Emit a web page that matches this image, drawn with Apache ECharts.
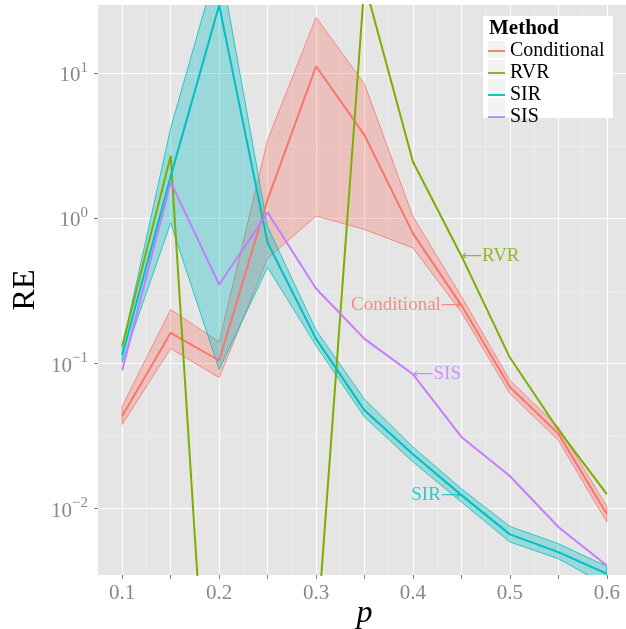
<!DOCTYPE html>
<html><head><meta charset="utf-8">
<script src="https://cdn.jsdelivr.net/npm/echarts@6/dist/echarts.min.js"></script>
<style>html,body{margin:0;padding:0;background:#fff}#c{width:626px;height:629px}</style>
</head><body><div id="c"></div>
<script>
// ---- data ----
const p = [0.1, 0.15, 0.2, 0.25, 0.3, 0.35, 0.4, 0.45, 0.5, 0.55, 0.6];
const methods = ['Conditional', 'RVR', 'SIR', 'SIS'];
const condMean = [0.0435, 0.163, 0.105, 1.35, 11.2, 3.75, 0.79, 0.252, 0.069, 0.0329, 0.0092];
const condLow  = [0.0381, 0.127, 0.080, 0.53, 1.04, 0.84, 0.627, 0.226, 0.0621, 0.0296, 0.0081];
const condHigh = [0.0508, 0.236, 0.141, 3.47, 24.3, 8.44, 1.03, 0.29, 0.0767, 0.0366, 0.0104];
const rvr      = [0.132, 2.70, 1.5e-5, 5e-5, 0.0011, 42, 2.46, 0.552, 0.11, 0.035, 0.0126];
const sirMean  = [0.114, 1.95, 29.5, 0.68, 0.148, 0.0476, 0.0237, 0.0124, 0.00665, 0.00502, 0.00356];
const sirLow   = [0.102, 0.93, 0.091, 0.46, 0.133, 0.0428, 0.021, 0.0111, 0.0059, 0.00452, 0.00295];
const sirHigh  = [0.13, 4.19, 62, 0.88, 0.17, 0.0567, 0.0266, 0.0137, 0.00755, 0.00574, 0.0040];
const sis      = [0.090, 1.78, 0.351, 1.10, 0.329, 0.148, 0.0844, 0.0312, 0.0168, 0.00747, 0.00406];
const yRange = [0.00349, 29.6];
const xRange = [0.075, 0.625];
const xLabels = [0.1, 0.2, 0.3, 0.4, 0.5, 0.6];
const yDecades = [-2, -1, 0, 1];

// ---- styling ----
const FONT = '"Liberation Serif", "Times New Roman", serif';
const COL = {Conditional: '#F8766D', RVR: '#7CAE00', SIR: '#00BFC4', SIS: '#C77CFF'};
const L = v => Math.log10(v);
const pts = arr => p.map((x, i) => [x, L(arr[i])]);

function meanLine(name, arr) {
  return {type: 'line', name, data: pts(arr), symbol: 'none', showSymbol: false, clip: true,
    lineStyle: {width: 2, color: COL[name]}, itemStyle: {color: COL[name]}, z: 2};
}
function ribbon(name, lo, hi) {
  return {
    type: 'custom', name: name + ' band', z: 2, clip: true,
    data: p.map((x, i) => [x, L(lo[i]), L(hi[i])]),
    encode: {x: 0, y: [1, 2]},
    renderItem: (params, api) => {
      if (params.dataIndexInside !== 0) return null;
      const top = [], bot = [];
      for (let i = 0; i < p.length; i++) {
        top.push(api.coord([api.value(0, i), api.value(2, i)]));
        bot.push(api.coord([api.value(0, i), api.value(1, i)]));
      }
      const cs = params.coordSys;
      return {
        type: 'group',
        clipPath: {type: 'rect', shape: {x: cs.x, y: cs.y, width: cs.width, height: cs.height}},
        children: [{type: 'polygon', shape: {points: top.concat(bot.reverse())},
          style: {fill: echarts.color.modifyAlpha(COL[name], 0.32), stroke: COL[name], lineWidth: 0.8}}]
      };
    }
  };
}
const ARW = {fontFamily: '"DejaVu Sans", sans-serif', fontSize: 14};
const note = (x, y, txt, pos, c) => ({value: [x, L(y)],
  label: {show: true, position: pos, formatter: txt, color: c,
    rich: {a: Object.assign({color: c}, ARW), t: {color: c, fontFamily: FONT, fontSize: 19}}}});

const chart = echarts.init(document.getElementById('c'), null, {renderer: 'canvas'});
chart.setOption({
  animation: false,
  grid: {left: 98, right: -5, top: 5, bottom: 54, show: true, backgroundColor: '#E5E5E5', borderWidth: 0,
    containLabel: false, outerBoundsMode: 'none'},
  xAxis: {
    type: 'value', min: xRange[0], max: xRange[1], minInterval: 0.05, maxInterval: 0.05, splitNumber: 11,
    axisLine: {show: false, onZero: false},
    axisTick: {show: true, length: 4, customValues: p, lineStyle: {color: '#7f7f7f', width: 1}},
    axisLabel: {fontFamily: FONT, fontSize: 21, color: '#888', margin: 8, customValues: xLabels,
      formatter: v => v.toFixed(1)},
    splitLine: {show: true, lineStyle: {color: '#ffffff', width: 1.1}},
    minorTick: {show: false, splitNumber: 2},
    minorSplitLine: {show: true, lineStyle: {color: '#F2F2F2', width: 0.6}},
    name: 'p', nameLocation: 'middle', nameGap: 23, nameMoveOverlap: false,
    nameTextStyle: {fontFamily: FONT, fontStyle: 'italic', fontSize: 32, color: '#000'}
  },
  yAxis: {
    type: 'value', min: L(yRange[0]), max: L(yRange[1]), minInterval: 1, maxInterval: 1,
    axisLine: {show: false, onZero: false},
    axisTick: {show: true, length: 4, customValues: yDecades, lineStyle: {color: '#7f7f7f', width: 1}},
    axisLabel: {margin: 10, color: '#888', customValues: yDecades,
      formatter: v => {
        const e = Math.round(v);
        return '{b|10}{s|' + (e < 0 ? '\u2212' + (-e) : e) + '}';
      },
      rich: {
        b: {fontFamily: FONT, fontSize: 21, color: '#888', lineHeight: 26, verticalAlign: 'bottom'},
        s: {fontFamily: FONT, fontSize: 15, color: '#888', verticalAlign: 'top'}
      }},
    splitLine: {show: true, lineStyle: {color: '#ffffff', width: 1.1}},
    minorTick: {show: false, splitNumber: 2},
    minorSplitLine: {show: true, lineStyle: {color: '#F2F2F2', width: 0.6}},
    name: 'RE', nameLocation: 'middle', nameGap: 56, nameRotate: 90, nameMoveOverlap: false,
    nameTextStyle: {fontFamily: FONT, fontSize: 32, color: '#000'}
  },
  legend: {
    data: methods, orient: 'vertical', left: 488, top: 41, itemWidth: 17, itemHeight: 17, itemGap: 2,
    padding: 0, selectedMode: false, z: 8,
    icon: 'path://M0,0M17,17M0,7.6L17,7.6L17,9.4L0,9.4Z',
    textStyle: {fontFamily: FONT, fontSize: 20, color: '#000', lineHeight: 17}
  },
  graphic: [
    {type: 'rect', left: 483, top: 16, shape: {width: 130, height: 102}, style: {fill: '#fff'}, z: 6},
    {type: 'text', left: 489, top: 18, style: {text: 'Method', font: 'bold 21px ' + FONT, fill: '#000'}, z: 7},
    ...methods.map((m, i) => ({type: 'rect', left: 488, top: 41 + 19 * i, shape: {width: 17, height: 17},
      style: {fill: '#F2F2F2'}, z: 7}))
  ],
  series: [
    meanLine('Conditional', condMean),
    meanLine('RVR', rvr),
    meanLine('SIR', sirMean),
    meanLine('SIS', sis),
    ribbon('Conditional', condLow, condHigh),
    ribbon('SIR', sirLow, sirHigh),
    {type: 'scatter', name: 'notes', symbolSize: 1, itemStyle: {color: 'rgba(0,0,0,0)'}, z: 10,
      label: {show: true, distance: 0},
      data: [
        note(p[7], rvr[7], '{a|\u27F5}{t|RVR}', 'right', COL.RVR),
        note(p[7], condMean[7], '{t|Conditional}{a|\u27F6}', 'left', COL.Conditional),
        note(p[6], sis[6], '{a|\u27F5}{t|SIS}', 'right', COL.SIS),
        note(p[7], sirMean[7], '{t|SIR}{a|\u27F6}', 'left', COL.SIR)
      ]}
  ]
});
</script></body></html>
